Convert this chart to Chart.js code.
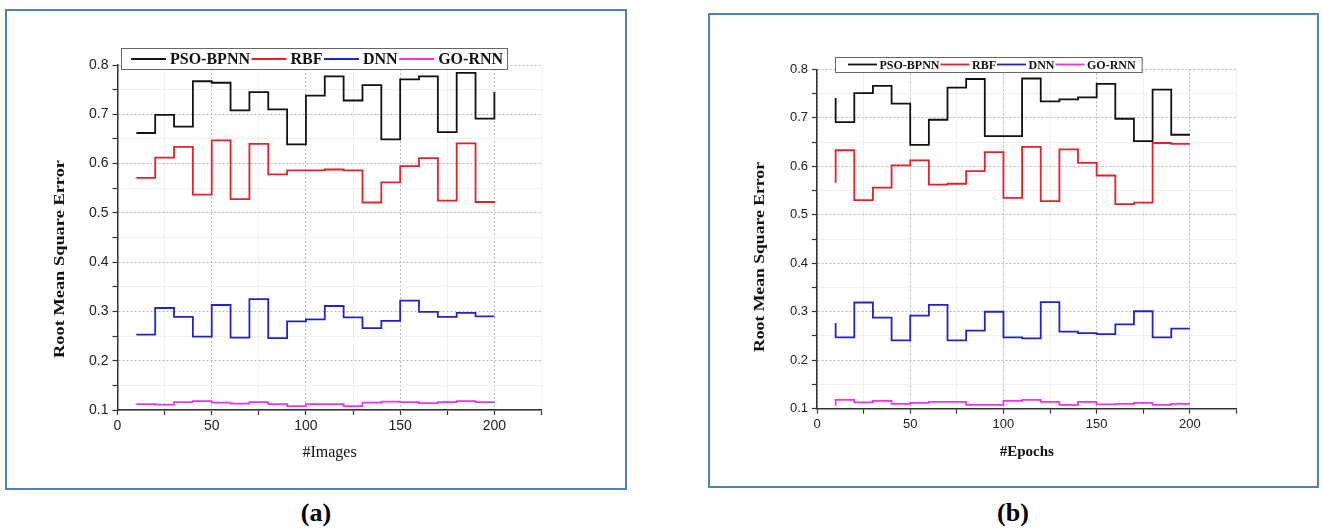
<!DOCTYPE html>
<html><head><meta charset="utf-8">
<script src="https://cdn.jsdelivr.net/npm/chart.js@4.4.1/dist/chart.umd.min.js"></script>
<style>
html,body{margin:0;padding:0;background:#fff;}
body{width:1323px;height:528px;position:relative;overflow:hidden;}
.frame{position:absolute;border:2px solid #4f81bd;box-sizing:border-box;}
.cap{position:absolute;font-family:'Times New Roman','Liberation Serif',serif;font-weight:bold;font-size:26px;transform:translate(-50%,-50%);color:#000;}
canvas{position:absolute;top:0;}
</style></head><body>
<div class="frame" style="left:5px;top:9px;width:622px;height:481px"></div>
<div class="frame" style="left:708px;top:13px;width:611px;height:475px"></div>
<div class="cap" style="left:316px;top:513px">(a)</div>
<div class="cap" style="left:1013px;top:513px">(b)</div>
<canvas id="cA" width="660" height="528" style="left:0"></canvas>
<canvas id="cB" width="663" height="528" style="left:660px"></canvas>
<script>
// ---------- data ----------
const seriesNames = ['PSO-BPNN', 'RBF', 'DNN', 'GO-RNN'];
const seriesColors = ['#111111', '#e62228', '#2323cc', '#ee33ee'];

// (a) #Images
const images = [10,20,30,40,50,60,70,80,90,100,110,120,130,140,150,160,170,180,190,200];
const imgPSO = [0.662,0.699,0.675,0.767,0.764,0.708,0.745,0.710,0.639,0.738,0.777,0.728,0.759,0.649,0.771,0.777,0.664,0.784,0.691,0.745];
const imgRBF = [0.571,0.612,0.634,0.537,0.647,0.528,0.640,0.578,0.586,0.586,0.588,0.586,0.521,0.562,0.595,0.611,0.525,0.641,0.522,0.521];
const imgDNN = [0.253,0.307,0.289,0.249,0.313,0.247,0.325,0.246,0.280,0.284,0.311,0.288,0.266,0.281,0.322,0.299,0.289,0.297,0.290,0.290];
const imgGO  = [0.112,0.111,0.116,0.118,0.115,0.113,0.116,0.112,0.108,0.112,0.112,0.108,0.115,0.117,0.116,0.114,0.116,0.118,0.116,0.116];

// (b) #Epochs
const epochs = [10,20,30,40,50,60,70,80,90,100,110,120,130,140,150,160,170,180,190,200];
const epPSO = [0.741,0.691,0.751,0.766,0.729,0.644,0.696,0.762,0.780,0.662,0.662,0.781,0.734,0.738,0.742,0.770,0.698,0.652,0.758,0.665];
const epRBF = [0.566,0.633,0.530,0.556,0.602,0.612,0.562,0.564,0.590,0.629,0.535,0.640,0.528,0.635,0.607,0.581,0.522,0.525,0.648,0.646];
const epDNN = [0.277,0.247,0.319,0.288,0.241,0.292,0.314,0.241,0.261,0.300,0.247,0.245,0.320,0.259,0.256,0.254,0.274,0.301,0.247,0.265];
const epGO  = [0.106,0.118,0.113,0.116,0.110,0.112,0.114,0.114,0.108,0.108,0.116,0.118,0.114,0.108,0.114,0.109,0.110,0.112,0.108,0.110];

const xMin = 0, xMax = 225, xStep = 25, xLabelStep = 50, xLabelMax = 200;
const yMin = 0.1, yMax = 0.8, yStep = 0.05, yLabelStep = 0.1;
const yTitle = 'Root Mean Square Error';

// ---------- helpers ----------
const SERIF = "'Times New Roman','Liberation Serif',serif";
const SANS = "Arial,'Liberation Sans',sans-serif";
Chart.defaults.font.family = SANS;

function isMul(v, step) { const r = v / step; return Math.abs(r - Math.round(r)) < 1e-6; }

const boxLegend = {
  id: 'boxLegend',
  afterDraw(chart, args, o) {
    const ctx = chart.ctx;
    ctx.save();
    ctx.font = o.font;
    const items = chart.data.datasets.map(d => ({ d, w: ctx.measureText(d.label).width }));
    let cur = o.left + o.padL;
    const pos = [];
    items.forEach((it, i) => {
      pos.push(cur);
      cur += o.line + o.gap1 + it.w + (i < items.length - 1 ? o.gap2 : 0);
    });
    const right = cur + o.padR;
    ctx.fillStyle = '#fff';
    ctx.fillRect(o.left, o.top, right - o.left, o.bottom - o.top);
    ctx.strokeStyle = '#666';
    ctx.lineWidth = 1;
    ctx.strokeRect(o.left + 0.5, o.top + 0.5, right - o.left, o.bottom - o.top);
    items.forEach((it, i) => {
      ctx.strokeStyle = it.d.borderColor;
      ctx.lineWidth = it.d.borderWidth;
      ctx.beginPath();
      ctx.moveTo(pos[i], o.cy);
      ctx.lineTo(pos[i] + o.line, o.cy);
      ctx.stroke();
      ctx.fillStyle = '#111';
      ctx.textBaseline = 'middle';
      ctx.fillText(it.d.label, pos[i] + o.line + o.gap1, o.cy + 1);
    });
    ctx.restore();
  }
};

// y-axis title, drawn stretched along its reading direction like the reference
const yAxisTitle = {
  id: 'yAxisTitle',
  afterDraw(chart, args, o) {
    const ctx = chart.ctx;
    ctx.save();
    ctx.font = o.font;
    ctx.fillStyle = '#111';
    ctx.textAlign = 'center';
    ctx.textBaseline = 'middle';
    const w = ctx.measureText(o.text).width;
    ctx.translate(o.x, o.cy);
    ctx.rotate(-Math.PI / 2);
    ctx.scale(o.length / w, 1);
    ctx.fillText(o.text, 0, 0);
    ctx.restore();
  }
};

function makeChart(id, xs, series, cfg) {
  const datasets = series.map((vals, i) => ({
    label: seriesNames[i],
    data: xs.map((x, j) => ({ x: x, y: vals[j] })),
    borderColor: seriesColors[i],
    borderWidth: 1.8,
    pointRadius: 0,
    fill: false,
    stepped: cfg.stepped
  }));
  const gridColor = (step) => (c) => (c.tick && isMul(c.tick.value, step)) ? '#b8b8b8' : '#efefef';
  const gridDash = (step) => (c) => (c.tick && isMul(c.tick.value, step)) ? [2, 2] : [];
  return new Chart(document.getElementById(id), {
    type: 'line',
    data: { datasets },
    plugins: [boxLegend, yAxisTitle],
    options: {
      responsive: false,
      animation: false,
      layout: { padding: cfg.padding },
      plugins: {
        legend: { display: false },
        tooltip: { enabled: false },
        boxLegend: cfg.legend,
        yAxisTitle: cfg.yTitle
      },
      scales: {
        x: {
          type: 'linear', min: xMin, max: xMax,
          afterFit: s => { s.height = cfg.xH; },
          ticks: {
            stepSize: xStep, autoSkip: false, maxRotation: 0, padding: 3,
            color: '#222', font: { size: cfg.tickSize },
            callback: v => (isMul(v, xLabelStep) && v <= xLabelMax) ? String(Math.round(v)) : ''
          },
          grid: { color: gridColor(xLabelStep), lineWidth: 1, tickLength: 5, tickColor: '#333', tickWidth: 1.2 },
          border: { color: '#333', width: 1.5, dash: gridDash(xLabelStep) },
          title: { display: true, text: cfg.xTitle, color: '#111', padding: 0,
                   font: { family: SERIF, size: cfg.xTitleSize, weight: cfg.xTitleWeight } }
        },
        y: {
          type: 'linear', min: yMin, max: yMax,
          afterFit: s => { s.width = cfg.yW; },
          ticks: {
            stepSize: yStep, autoSkip: false, padding: 4,
            color: '#222', font: { size: cfg.tickSize },
            callback: v => isMul(v, yLabelStep) ? v.toFixed(1) : ''
          },
          grid: { color: gridColor(yLabelStep), lineWidth: 1, tickLength: 5, tickColor: '#333', tickWidth: 1.2 },
          border: { color: '#333', width: 1.5, dash: gridDash(yLabelStep) },
          title: { display: false, text: yTitle }
        }
      }
    }
  });
}

makeChart('cA', images, [imgPSO, imgRBF, imgDNN, imgGO], {
  stepped: 'before',
  padding: { left: 51, right: 118.5, top: 65, bottom: 65.4 },
  xH: 52.6, yW: 66.5, tickSize: 14,
  xTitle: '#Images', xTitleSize: 16, xTitleWeight: 'normal',
  yTitle: { text: yTitle, x: 60, cy: 259, length: 198, font: "bold 15px " + SERIF },
  legend: { left: 121, top: 48, bottom: 69, cy: 59, padL: 10, padR: 4, line: 35, gap1: 4, gap2: 1.5,
            font: "bold 16px " + SERIF }
});

makeChart('cB', epochs, [epPSO, epRBF, epDNN, epGO], {
  stepped: 'after',
  padding: { left: 91.6, right: 86.5, top: 69.3, bottom: 67 },
  xH: 52.3, yW: 65.4, tickSize: 13,
  xTitle: '#Epochs', xTitleSize: 15, xTitleWeight: 'bold',
  yTitle: { text: yTitle, x: 100, cy: 257, length: 190, font: "bold 14px " + SERIF },
  legend: { left: 175, top: 57, bottom: 72, cy: 64.5, padL: 13, padR: 6, line: 29, gap1: 2.5, gap2: 1,
            font: "bold 12px " + SERIF }
});
</script>
</body></html>
